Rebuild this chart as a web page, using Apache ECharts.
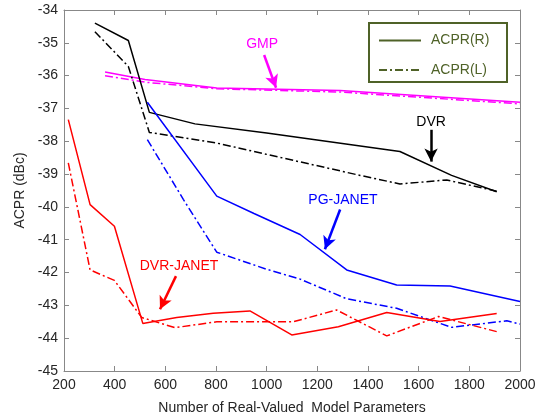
<!DOCTYPE html>
<html>
<head>
<meta charset="utf-8">
<script src="https://cdn.jsdelivr.net/npm/echarts@6/dist/echarts.min.js"></script>
<style>
  html, body { margin: 0; padding: 0; background: #fff; }
  #main { width: 545px; height: 420px; }
</style>
</head>
<body>
<div id="main"></div>
<script>
// x ticks and y ticks
var xTicks = [200, 400, 600, 800, 1000, 1200, 1400, 1600, 1800, 2000];
var yTicks = [-45, -44, -43, -42, -41, -40, -39, -38, -37, -36, -35, -34];

// [parameters, ACPR] pairs
var dvrR = [[322, -34.40], [454, -34.93], [537, -37.12], [717, -37.47], [1000, -37.75], [1526, -38.31], [1730, -39.04], [1908, -39.54]];
var dvrL = [[322, -34.66], [454, -35.72], [537, -37.73], [800, -38.05], [1369, -39.04], [1526, -39.30], [1711, -39.18], [1908, -39.52]];
var gmpR = [[362, -35.89], [520, -36.12], [803, -36.38], [1290, -36.45], [2000, -36.81]];
var gmpL = [[362, -36.00], [520, -36.20], [803, -36.40], [1290, -36.50], [2000, -36.86]];
var pgR = [[529, -36.81], [803, -39.67], [950, -40.20], [1132, -40.84], [1316, -41.92], [1513, -42.38], [1724, -42.41], [2000, -42.88]];
var pgL = [[529, -37.95], [671, -39.77], [803, -41.38], [1000, -41.90], [1132, -42.20], [1316, -42.80], [1513, -43.09], [1730, -43.67], [1948, -43.47], [2000, -43.57]];
var djR = [[217, -37.34], [303, -39.93], [399, -40.59], [511, -43.55], [645, -43.37], [789, -43.24], [934, -43.17], [1099, -43.90], [1283, -43.65], [1474, -43.22], [1684, -43.49], [1908, -43.25]];
var djL = [[217, -38.66], [303, -41.92], [399, -42.24], [507, -43.37], [638, -43.68], [803, -43.50], [1105, -43.50], [1276, -43.14], [1474, -43.93], [1678, -43.34], [1908, -43.80]];

// annotations: label position, arrow start, arrow end (data coords)
var noteGMP = { text: 'GMP', at: [982, -35.03], from: [990, -35.37], to: [1037, -36.37] };
var noteDVR = { text: 'DVR', at: [1649, -37.42], from: [1649, -37.65], to: [1649, -38.62] };
var notePG = { text: 'PG-JANET', at: [1301, -39.79], from: [1290, -40.08], to: [1230, -41.29] };
var noteDJ = { text: 'DVR-JANET', at: [654, -41.81], from: [642, -42.11], to: [579, -43.12] };

var dashDot = [8, 3, 2, 3];
var axisGray = '#888';
var textColor = '#262626';
var legendColor = '#4f6228';
var font = 'Liberation Sans, Arial, sans-serif';

function note(n, color) {
  return {
    markLine: {
      silent: true,
      animation: false,
      symbol: ['none', 'arrow'],
      symbolSize: [10, 13],
      label: { show: false },
      lineStyle: { color: color, width: 2.5, type: 'solid' },
      data: [[{ coord: n.from }, { coord: n.to }]]
    },
    markPoint: {
      silent: true,
      animation: false,
      symbol: 'circle',
      symbolSize: 1,
      itemStyle: { color: 'rgba(0,0,0,0)' },
      label: {
        show: true, position: 'inside', formatter: n.text,
        color: color, fontSize: 14, fontFamily: font
      },
      data: [{ coord: n.at }]
    }
  };
}

function line(data, color, dashed, n) {
  var s = {
    type: 'line',
    data: data,
    showSymbol: false,
    symbol: 'none',
    animation: false,
    lineStyle: { color: color, width: 1.5, type: dashed ? dashDot : 'solid' },
    z: 3
  };
  if (n) {
    var extra = note(n, color);
    s.markLine = extra.markLine;
    s.markPoint = extra.markPoint;
  }
  return s;
}

var chart = echarts.init(document.getElementById('main'));

var baseAxis = {
  type: 'value',
  axisLine: { show: true, lineStyle: { color: axisGray, width: 1 } },
  axisTick: { show: true, inside: true, length: 5, lineStyle: { color: axisGray } },
  splitLine: { show: false }
};

var option = {
  backgroundColor: '#fff',
  grid: { left: 64, right: 25, top: 10, bottom: 48 },
  xAxis: [
    Object.assign({}, baseAxis, {
      min: xTicks[0], max: xTicks[xTicks.length - 1], interval: 200,
      position: 'bottom',
      name: 'Number of Real-Valued  Model Parameters',
      nameLocation: 'middle', nameGap: 30,
      nameTextStyle: { color: textColor, fontSize: 14, fontFamily: font },
      axisLabel: {
        color: textColor, fontSize: 14, fontFamily: font, margin: 7,
        formatter: function (v) { return String(v); }
      }
    }),
    Object.assign({}, baseAxis, {
      min: xTicks[0], max: xTicks[xTicks.length - 1], interval: 200,
      position: 'top', axisLabel: { show: false }
    })
  ],
  yAxis: [
    Object.assign({}, baseAxis, {
      min: yTicks[0], max: yTicks[yTicks.length - 1], interval: 1,
      position: 'left',
      name: 'ACPR (dBc)',
      nameLocation: 'middle', nameGap: 37,
      nameTextStyle: { color: textColor, fontSize: 14, fontFamily: font },
      axisLabel: { color: textColor, fontSize: 14, fontFamily: font, margin: 6 }
    }),
    Object.assign({}, baseAxis, {
      min: yTicks[0], max: yTicks[yTicks.length - 1], interval: 1,
      position: 'right', axisLabel: { show: false }
    })
  ],
  series: [
    line(gmpR, '#ff00ff', false, noteGMP),
    line(gmpL, '#ff00ff', true),
    line(dvrR, '#000000', false, noteDVR),
    line(dvrL, '#000000', true),
    line(pgR, '#0000ff', false, notePG),
    line(pgL, '#0000ff', true),
    line(djR, '#ff0000', false, noteDJ),
    line(djL, '#ff0000', true)
  ],
  graphic: [
    { type: 'rect', shape: { x: 369, y: 23, width: 138, height: 59 },
      style: { fill: '#fff', stroke: legendColor, lineWidth: 2 }, z: 10 },
    { type: 'line', shape: { x1: 379, y1: 40.5, x2: 421, y2: 40.5 },
      style: { stroke: legendColor, lineWidth: 2 }, z: 11 },
    { type: 'line', shape: { x1: 379, y1: 70, x2: 421, y2: 70 },
      style: { stroke: legendColor, lineWidth: 2, lineDash: dashDot }, z: 11 },
    { type: 'text', x: 431, y: 40.5, z: 11,
      style: { text: 'ACPR(R)', fill: legendColor, font: '14px ' + font, textVerticalAlign: 'middle' } },
    { type: 'text', x: 431, y: 70, z: 11,
      style: { text: 'ACPR(L)', fill: legendColor, font: '14px ' + font, textVerticalAlign: 'middle' } }
  ]
};

chart.setOption(option);
</script>
</body>
</html>
